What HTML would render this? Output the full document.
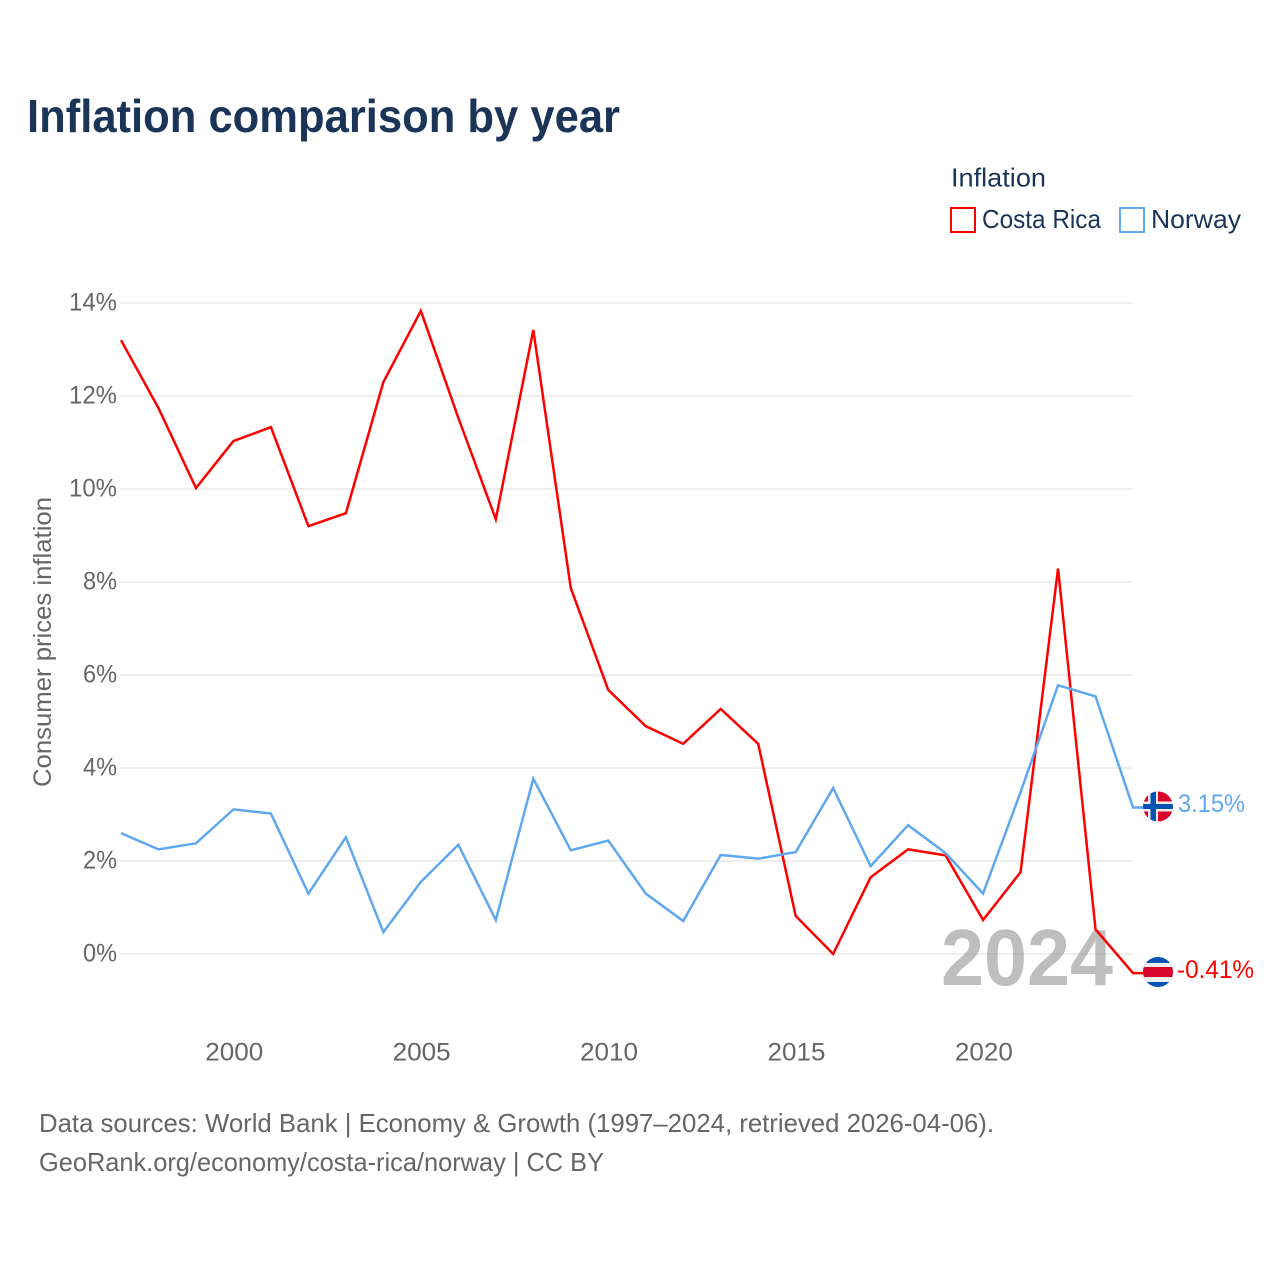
<!DOCTYPE html>
<html lang="en">
<head>
<meta charset="utf-8">
<title>Inflation comparison by year</title>
<style>
html,body{margin:0;padding:0;background:#fff;}
svg{display:block;font-family:"Liberation Sans",sans-serif;}
</style>
</head>
<body>
<svg id="chart" xmlns="http://www.w3.org/2000/svg" width="1280" height="1280" viewBox="0 0 1280 1280">
  <defs>
    <clipPath id="clip-no"><circle cx="1158" cy="806.5" r="15"/></clipPath>
    <clipPath id="clip-cr"><circle cx="1158" cy="972" r="15"/></clipPath>
  </defs>
  <rect width="1280" height="1280" fill="#fff"/>
  <text x="27" y="132" font-size="46" font-weight="700" fill="#1a3557" textLength="593" lengthAdjust="spacingAndGlyphs">Inflation comparison by year</text>

  <g font-size="26" fill="#1a3557">
    <text x="951" y="186.5" textLength="95" lengthAdjust="spacingAndGlyphs">Inflation</text>
    <g>
      <rect x="951" y="208" width="24" height="24" fill="#fff" stroke="#ff0000" stroke-width="2"/>
      <text x="982" y="228" textLength="119" lengthAdjust="spacingAndGlyphs">Costa Rica</text>
    </g>
    <g>
      <rect x="1120" y="208" width="24" height="24" fill="#fff" stroke="#5fa8ee" stroke-width="2"/>
      <text x="1151" y="228" textLength="90" lengthAdjust="spacingAndGlyphs">Norway</text>
    </g>
  </g>

  <text transform="translate(51,787) rotate(-90)" font-size="25" fill="#666" textLength="290" lengthAdjust="spacingAndGlyphs">Consumer prices inflation</text>

  <g id="grid"></g>
  <g id="yticks"></g>
  <g id="xticks"></g>

  <text x="941" y="985" font-size="80" font-weight="700" fill="#888" fill-opacity="0.55" textLength="172" lengthAdjust="spacingAndGlyphs">2024</text>

  <g id="series"></g>

  <g clip-path="url(#clip-no)">
    <rect x="1143" y="791" width="30" height="31" fill="#d9042b"/>
    <rect x="1148" y="791" width="10" height="31" fill="#eee"/>
    <rect x="1143" y="801.5" width="30" height="10" fill="#eee"/>
    <rect x="1150.5" y="791" width="5.5" height="31" fill="#0052b4"/>
    <rect x="1143" y="804" width="30" height="5" fill="#0052b4"/>
  </g>
  <g clip-path="url(#clip-cr)">
    <rect x="1143" y="957" width="30" height="30" fill="#0052b4"/>
    <rect x="1143" y="963" width="30" height="19" fill="#eee"/>
    <rect x="1143" y="967" width="30" height="10" fill="#d9042b"/>
  </g>
  <text id="label-no" x="1178" y="812" font-size="25" fill="#5fa8ee" textLength="67" lengthAdjust="spacingAndGlyphs"></text>
  <text id="label-cr" x="1177" y="978" font-size="25" fill="#ff0000" textLength="77" lengthAdjust="spacingAndGlyphs"></text>

  <g font-size="26" fill="#666">
    <text x="39" y="1132" textLength="955" lengthAdjust="spacingAndGlyphs">Data sources: World Bank | Economy &amp; Growth (1997–2024, retrieved 2026-04-06).</text>
    <text x="39" y="1171" textLength="565" lengthAdjust="spacingAndGlyphs">GeoRank.org/economy/costa-rica/norway | CC BY</text>
  </g>
</svg>
<script>
const years = [1997,1998,1999,2000,2001,2002,2003,2004,2005,2006,2007,2008,2009,2010,2011,2012,2013,2014,2015,2016,2017,2018,2019,2020,2021,2022,2023,2024];
const costaRica = [13.2,11.74,10.02,11.03,11.33,9.2,9.48,12.3,13.83,11.53,9.35,13.42,7.87,5.68,4.9,4.52,5.27,4.52,0.82,0.0,1.65,2.25,2.12,0.73,1.76,8.29,0.53,-0.41];
const norway = [2.6,2.25,2.38,3.11,3.02,1.3,2.51,0.47,1.55,2.35,0.73,3.77,2.23,2.44,1.3,0.71,2.13,2.05,2.19,3.57,1.89,2.77,2.17,1.3,3.48,5.78,5.54,3.15];
const yTickValues = [0,2,4,6,8,10,12,14];
const xTickValues = [2000,2005,2010,2015,2020];

const NS = 'http://www.w3.org/2000/svg';
const xScale = function (year) { return 121 + (year - 1997) * (1133 - 121) / (2024 - 1997); };
const yScale = function (value) { return 954 - value * (954 - 303) / 14; };

const grid = document.getElementById('grid');
const yticks = document.getElementById('yticks');
const xticks = document.getElementById('xticks');
const series = document.getElementById('series');

yTickValues.forEach(function (v) {
  const line = document.createElementNS(NS, 'line');
  
  
  line.setAttribute('x1', 120);
  line.setAttribute('x2', 1133);
  line.setAttribute('y1', yScale(v));
  line.setAttribute('y2', yScale(v));
  line.setAttribute('stroke', '#eeeeee');
  line.setAttribute('stroke-width', 2);
  grid.appendChild(line);

  const label = document.createElementNS(NS, 'text');
  
  
  label.setAttribute('x', 117);
  label.setAttribute('y', yScale(v) + 7.5);
  label.setAttribute('text-anchor', 'end');
  label.setAttribute('font-size', 25);
  label.setAttribute('fill', '#666');
  label.setAttribute('textLength', v >= 10 ? 48 : 34);
  label.setAttribute('lengthAdjust', 'spacingAndGlyphs');
  label.textContent = v + '%';
  yticks.appendChild(label);
});

xTickValues.forEach(function (y) {
  const label = document.createElementNS(NS, 'text');
  
  
  label.setAttribute('x', xScale(y) + 0.8);
  label.setAttribute('y', 1060.5);
  label.setAttribute('text-anchor', 'middle');
  label.setAttribute('font-size', 25);
  label.setAttribute('fill', '#666');
  label.setAttribute('textLength', 58);
  label.setAttribute('lengthAdjust', 'spacingAndGlyphs');
  label.textContent = String(y);
  xticks.appendChild(label);
});

function linePoints(values) {
  const pts = values.map(function (v, i) {
    return xScale(years[i]).toFixed(2) + ',' + yScale(v).toFixed(2);
  });
  // horizontal leader from the last data point to the flag marker
  pts.push((xScale(years[years.length - 1]) + 10).toFixed(2) + ',' + yScale(values[values.length - 1]).toFixed(2));
  return pts.join(' ');
}

const costaRicaLine = document.createElementNS(NS, 'polyline');


costaRicaLine.setAttribute('points', linePoints(costaRica));
costaRicaLine.setAttribute('fill', 'none');
costaRicaLine.setAttribute('stroke', '#ff0000');
costaRicaLine.setAttribute('stroke-width', 2.5);
series.appendChild(costaRicaLine);

const norwayLine = document.createElementNS(NS, 'polyline');


norwayLine.setAttribute('points', linePoints(norway));
norwayLine.setAttribute('fill', 'none');
norwayLine.setAttribute('stroke', '#5fa8ee');
norwayLine.setAttribute('stroke-width', 2.5);
series.appendChild(norwayLine);

document.getElementById('label-no').textContent = norway[norway.length - 1].toFixed(2) + '%';
document.getElementById('label-cr').textContent = costaRica[costaRica.length - 1].toFixed(2) + '%';
</script>
</body>
</html>
